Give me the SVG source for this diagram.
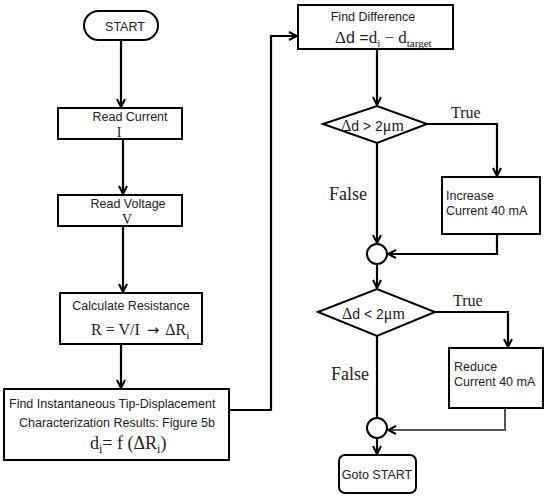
<svg xmlns="http://www.w3.org/2000/svg" width="550" height="499" viewBox="0 0 550 499">
<style>
.box{fill:#fff;stroke:#000;stroke-width:2}
.ln{fill:none;stroke:#000;stroke-width:2.2}
.s{font-family:"Liberation Sans",Arial,sans-serif;font-size:12.5px;fill:#222}
.r{font-family:"Liberation Serif","Times New Roman",serif;fill:#222}
</style>
<defs>
<marker id="a" viewBox="0 0 10 10" refX="9" refY="5" markerWidth="10" markerHeight="10" markerUnits="userSpaceOnUse" orient="auto">
<path d="M1,1 L9,5 L1,9" fill="none" stroke="#000" stroke-width="2"/>
</marker>
</defs>
<rect width="550" height="499" fill="#fff"/>
<g id="connectors">
<line class="ln" x1="121" y1="40" x2="121" y2="107" marker-end="url(#a)"/>
<line class="ln" x1="123" y1="139" x2="123" y2="194" marker-end="url(#a)"/>
<line class="ln" x1="123" y1="226" x2="123" y2="292" marker-end="url(#a)"/>
<line class="ln" x1="121" y1="344" x2="121" y2="388" marker-end="url(#a)"/>
<polyline class="ln" points="229,410 271,410 271,36 297,36" marker-end="url(#a)"/>
<line class="ln" x1="377" y1="49" x2="377" y2="105" marker-end="url(#a)"/>
<polyline class="ln" points="427,124 497,124 497,176" marker-end="url(#a)"/>
<line class="ln" x1="377" y1="143" x2="377" y2="243" marker-end="url(#a)"/>
<polyline class="ln" points="497,234 497,254 388,254" marker-end="url(#a)"/>
<line class="ln" x1="377" y1="264" x2="377" y2="288" marker-end="url(#a)"/>
<polyline class="ln" points="435,312 508,312 508,347" marker-end="url(#a)"/>
<line class="ln" x1="377" y1="336" x2="377" y2="418"/>
<polyline points="505,408 505,430 388,430" fill="none" stroke="#555" stroke-width="2" marker-end="url(#a)"/>
<line class="ln" x1="377" y1="438" x2="377" y2="454" marker-end="url(#a)"/>
<text class="r" x="451" y="118" font-size="16">True</text>
<text class="r" x="329" y="200" font-size="18">False</text>
<text class="r" x="453" y="306" font-size="16">True</text>
<text class="r" x="331" y="380" font-size="18">False</text>
</g>
<g id="start">
<rect class="box" x="84" y="11" width="74" height="29" rx="14.5"/>
<text class="s" x="125" y="31" font-size="13" text-anchor="middle">START</text>
</g>
<g id="read-current">
<rect class="box" x="58" y="108" width="124" height="31"/>
<text class="s" x="130" y="121" font-size="13" text-anchor="middle">Read Current</text>
<text class="r" x="119" y="137" font-size="14" text-anchor="middle">I</text>
</g>
<g id="read-voltage">
<rect class="box" x="58" y="195" width="124" height="31"/>
<text class="s" x="128" y="208" font-size="13" text-anchor="middle">Read Voltage</text>
<text class="r" x="127" y="224" font-size="14" text-anchor="middle">V</text>
</g>
<g id="calc-resistance">
<rect class="box" x="60" y="293" width="142" height="51"/>
<text class="s" x="131" y="310" font-size="13" text-anchor="middle">Calculate Resistance</text>
<text class="r" x="91" y="335" font-size="16">R = V/I<tspan font-family="DejaVu Sans,sans-serif" font-size="15" dx="7">→</tspan><tspan dx="6">ΔR</tspan><tspan font-size="11" dy="4">i</tspan></text>
</g>
<g id="find-tip">
<rect class="box" x="4" y="389" width="225" height="71"/>
<text class="s" x="9" y="408" font-size="12.4">Find Instantaneous Tip-Displacement</text>
<text class="s" x="19" y="427" font-size="12.4">Characterization Results: Figure 5b</text>
<text class="r" x="90" y="449" font-size="18">d<tspan font-size="12" dy="4">i</tspan><tspan dy="-4">= f (ΔR</tspan><tspan font-size="12" dy="4">i</tspan><tspan dy="-4">)</tspan></text>
</g>
<g id="find-difference">
<rect class="box" x="298" y="5" width="155" height="44"/>
<text class="s" x="373" y="21" font-size="13" text-anchor="middle">Find Difference</text>
<text class="r" x="335" y="43" font-size="17">Δ<tspan font-family="Liberation Sans,Arial,sans-serif" font-size="16">d =</tspan>d<tspan font-size="11" dy="4">i</tspan><tspan dy="-4"> − </tspan> d<tspan font-size="11" dy="4">target</tspan></text>
</g>
<g id="decision-1">
<polygon class="box" points="323,124 377,106 427,124 377,143"/>
<text class="r" x="341" y="131" font-size="16">Δ<tspan font-family="Liberation Sans,Arial,sans-serif" font-size="14">d &gt; 2</tspan>μm</text>
</g>
<g id="increase">
<rect class="box" x="442" y="177" width="98" height="57"/>
<text class="s" x="446" y="200">Increase</text>
<text class="s" x="446" y="215">Current 40 mA</text>
</g>
<g id="merge-1">
<circle class="box" cx="377" cy="254" r="10"/>
</g>
<g id="decision-2">
<polygon class="box" points="318,312 377,289 435,312 377,336"/>
<text class="r" x="342" y="319" font-size="16">Δ<tspan font-family="Liberation Sans,Arial,sans-serif" font-size="14">d &lt; 2</tspan>μm</text>
</g>
<g id="reduce">
<rect class="box" x="449" y="348" width="94" height="60"/>
<text class="s" x="454" y="371">Reduce</text>
<text class="s" x="454" y="386">Current 40 mA</text>
</g>
<g id="merge-2">
<circle class="box" cx="377" cy="428" r="10"/>
</g>
<g id="goto-start">
<rect class="box" x="339" y="455" width="77" height="38" rx="6"/>
<text class="s" x="377" y="479" text-anchor="middle">Goto START</text>
</g>
</svg>
